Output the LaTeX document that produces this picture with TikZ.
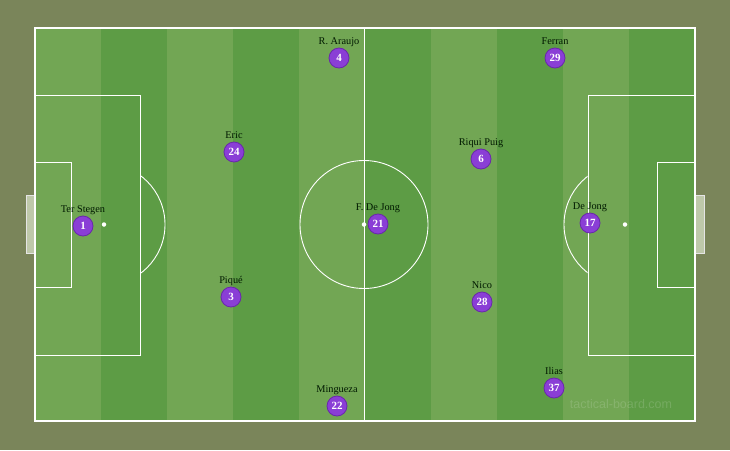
\documentclass[tikz,border=0pt]{standalone}
\usepackage{fontspec}
\setmainfont{Liberation Serif}
\newfontfamily\wmfont{Liberation Sans}
\definecolor{bgc}{RGB}{122,133,90}
\definecolor{lightg}{RGB}{114,166,84}
\definecolor{darkg}{RGB}{93,156,69}
\definecolor{pl}{RGB}{138,62,214}
\definecolor{plb}{RGB}{105,40,170}
\definecolor{goalc}{RGB}{190,200,170}
\tikzset{
  pline/.style={draw=white, line width=0.9pt},
  player/.style={circle, fill=pl, draw=plb, line width=0.8pt, minimum size=20pt, inner sep=0pt, text=white, font=\bfseries\fontsize{11}{11}\selectfont},
  pname/.style={font=\fontsize{10.3}{10}\selectfont, text=black!90!green, inner sep=0pt},
  spot/.style={circle, fill=white, inner sep=0pt, minimum size=4.5pt}
}
\begin{document}
\begin{tikzpicture}[x=1pt,y=-1pt]
\useasboundingbox (0,0) rectangle (730,450);
\fill[bgc] (0,0) rectangle (730,450);
% stripes
\foreach \i in {0,...,9} {
  \pgfmathtruncatemacro{\m}{mod(\i,2)}
  \ifnum\m=0 \fill[lightg] (35+66*\i,28) rectangle (35+66*\i+66,421);
  \else \fill[darkg] (35+66*\i,28) rectangle (35+66*\i+66,421); \fi
}
% goals
\draw[white!80!gray, fill=goalc, line width=0.8pt] (26,195) rectangle (35,253);
\draw[white!80!gray, fill=goalc, line width=0.8pt] (695,195) rectangle (704,253);
% outline
\draw[pline, line width=1.5pt] (35,28) rectangle (695,421);
\draw[pline] (364,28) -- (364,421);
% center circle
\node[draw=white, line width=0.9pt, circle, minimum size=128pt, inner sep=0pt] (cc) at (364,224.5) {};
\node[spot] (cs) at (364,224.5) {};
% left penalty area
\draw[pline] (35,95) rectangle (140,355);
\draw[pline] (35,162) rectangle (71,287);
\node[spot] (ls) at (104,224.5) {};
\begin{scope}
\clip (140.5,100) rectangle (200,350);
\draw[pline] (104,224.5) circle[radius=61];
\end{scope}
% right penalty area
\draw[pline] (588,95) rectangle (695,355);
\draw[pline] (657,162) rectangle (695,287);
\node[spot] (rs) at (625,224.5) {};
\begin{scope}
\clip (500,100) rectangle (587.5,350);
\draw[pline] (625,224.5) circle[radius=61];
\end{scope}
% players
\node[player] (p1) at (83,226) {1};
\node[pname, anchor=base] (n1) at (83,212) {Ter Stegen};
\node[player] (p24) at (234,152) {24};
\node[pname, anchor=base] (n24) at (234,138) {Eric};
\node[player] (p3) at (231,297) {3};
\node[pname, anchor=base] (n3) at (231,283) {Piqué};
\node[player] (p4) at (339,58) {4};
\node[pname, anchor=base] (n4) at (339,44) {R. Araujo};
\node[player] (p22) at (337,406) {22};
\node[pname, anchor=base] (n22) at (337,392) {Mingueza};
\node[player] (p21) at (378,224) {21};
\node[pname, anchor=base] (n21) at (378,210) {F. De Jong};
\node[player] (p6) at (481,159) {6};
\node[pname, anchor=base] (n6) at (481,145) {Riqui Puig};
\node[player] (p28) at (482,302) {28};
\node[pname, anchor=base] (n28) at (482,288) {Nico};
\node[player] (p29) at (555,58) {29};
\node[pname, anchor=base] (n29) at (555,44) {Ferran};
\node[player] (p37) at (554,388) {37};
\node[pname, anchor=base] (n37) at (554,374) {Ilias};
\node[player] (p17) at (590,223) {17};
\node[pname, anchor=base] (n17) at (590,209) {De Jong};
% watermark
\node[font=\wmfont\fontsize{12.5}{13}\selectfont, text=white, opacity=0.15] (wm) at (621,404) {tactical-board.com};
\end{tikzpicture}
\end{document}
